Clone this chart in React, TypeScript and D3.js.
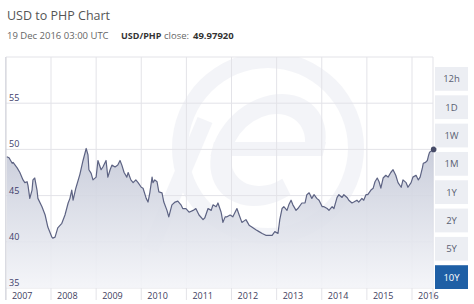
import React from "react";
import * as d3 from "d3";

const title = "USD to PHP Chart";
const stamp = "19 Dec 2016 03:00 UTC";
const pair = "USD/PHP";
const closeLabel = "close:";
const closeValue = "49.97920";

const yearTicks = [2007, 2008, 2009, 2010, 2011, 2012, 2013, 2014, 2015, 2016];
const valueTicks = [35, 40, 45, 50, 55];
const ranges = ["12h", "1D", "1W", "1M", "1Y", "2Y", "5Y", "10Y"];
const activeRange = "10Y";

const times = [
  2007.02, 2007.07, 2007.14, 2007.16, 2007.25, 2007.31, 2007.38, 2007.42, 2007.47, 2007.49,
  2007.53, 2007.58, 2007.6, 2007.64, 2007.69, 2007.71, 2007.8, 2007.87, 2007.93, 2008.02,
  2008.04, 2008.09, 2008.15, 2008.24, 2008.31, 2008.38, 2008.42, 2008.46, 2008.49, 2008.55,
  2008.64, 2008.71, 2008.78, 2008.82, 2008.84, 2008.89, 2008.93, 2009.0, 2009.04, 2009.11,
  2009.15, 2009.22, 2009.26, 2009.31, 2009.35, 2009.42, 2009.48, 2009.53, 2009.57, 2009.62,
  2009.68, 2009.71, 2009.77, 2009.82, 2009.88, 2009.93, 2010.0, 2010.04, 2010.11, 2010.15,
  2010.19, 2010.24, 2010.26, 2010.3, 2010.35, 2010.39, 2010.46, 2010.5, 2010.57, 2010.61,
  2010.68, 2010.75, 2010.81, 2010.88, 2010.92, 2010.99, 2011.06, 2011.15, 2011.21, 2011.28,
  2011.37, 2011.41, 2011.48, 2011.55, 2011.59, 2011.66, 2011.7, 2011.77, 2011.81, 2011.86,
  2011.9, 2011.97, 2012.03, 2012.12, 2012.17, 2012.23, 2012.32, 2012.39, 2012.45, 2012.54,
  2012.61, 2012.68, 2012.76, 2012.83, 2012.9, 2012.96, 2013.03, 2013.07, 2013.12, 2013.16,
  2013.23, 2013.27, 2013.32, 2013.36, 2013.43, 2013.47, 2013.56, 2013.63, 2013.67, 2013.72,
  2013.78, 2013.83, 2013.89, 2013.94, 2014.01, 2014.05, 2014.12, 2014.16, 2014.23, 2014.27,
  2014.34, 2014.38, 2014.45, 2014.49, 2014.56, 2014.6, 2014.67, 2014.71, 2014.78, 2014.82,
  2014.89, 2014.93, 2014.98, 2015.02, 2015.09, 2015.14, 2015.18, 2015.23, 2015.27, 2015.31,
  2015.36, 2015.42, 2015.47, 2015.53, 2015.58, 2015.64, 2015.69, 2015.76, 2015.8, 2015.87,
  2015.91, 2015.98, 2016.02, 2016.09, 2016.14, 2016.18, 2016.23, 2016.25, 2016.3, 2016.34,
  2016.37, 2016.39, 2016.45, 2016.48,
];

const rates = [
  49.2, 49.1, 48.5, 48.6, 48.0, 47.5, 46.7, 46.4, 46.5, 46.1,
  44.7, 45.6, 46.7, 46.9, 45.6, 44.7, 43.8, 42.9, 41.6, 40.5,
  40.4, 40.5, 41.5, 42.0, 42.9, 44.2, 44.7, 45.6, 44.5, 45.8,
  47.3, 48.8, 50.1, 49.4, 47.8, 47.4, 46.7, 47.0, 48.8, 47.8,
  48.1, 48.8, 47.0, 47.8, 48.3, 48.1, 48.3, 48.8, 48.3, 47.5,
  47.0, 47.5, 46.7, 46.4, 46.7, 46.4, 45.9, 45.8, 44.7, 44.3,
  45.3, 47.0, 46.4, 46.7, 46.5, 45.4, 45.3, 44.3, 43.4, 42.7,
  44.0, 44.3, 44.4, 44.0, 43.6, 43.6, 43.2, 43.4, 43.6, 42.9,
  42.4, 42.6, 43.6, 43.4, 44.0, 43.8, 44.2, 43.2, 42.1, 42.7,
  42.7, 42.9, 42.7, 43.6, 42.9, 42.1, 42.4, 41.8, 41.6, 41.3,
  41.1, 40.9, 40.7, 40.7, 40.7, 41.1, 40.9, 42.4, 43.6, 43.8,
  43.4, 44.0, 44.5, 44.0, 43.4, 43.6, 44.2, 44.2, 45.1, 45.3,
  44.7, 45.1, 44.7, 44.5, 43.8, 43.8, 43.6, 43.4, 43.8, 43.6,
  44.8, 45.1, 44.8, 45.1, 44.8, 44.5, 44.2, 44.3, 44.5, 44.3,
  44.7, 44.5, 45.1, 45.1, 45.6, 45.8, 46.5, 46.9, 46.5, 45.8,
  46.9, 47.2, 47.0, 47.5, 47.8, 47.2, 46.4, 45.9, 46.7, 46.4,
  45.9, 46.4, 47.0, 47.2, 46.7, 47.0, 48.0, 48.5, 48.6, 48.8,
  49.4, 49.7, 49.9, 50.0,
];

const W = 474;
const H = 304;
const plotLeft = 6;
const plotRight = 433;
const plotTop = 57;
const plotBottom = 288;

export default function App() {
  const x = d3.scaleLinear().domain([2008, 2016]).range([51, 412]);
  const y = d3.scaleLinear().domain([35, 60]).range([plotBottom, plotTop]);
  const pts = times.map((t, i) => [t, rates[i]] as [number, number]);
  const line = d3.line<[number, number]>().x((d) => x(d[0])).y((d) => y(d[1]));
  const area = d3
    .area<[number, number]>()
    .x((d) => x(d[0]))
    .y0(plotBottom)
    .y1((d) => y(d[1]));
  const last = pts[pts.length - 1];
  const font = "'Open Sans', sans-serif";
  const btnY = d3.scaleBand().domain(ranges).range([67, 289]).paddingInner(0.16);

  const ring = d3.arc()({ innerRadius: 80, outerRadius: 96, startAngle: 0, endAngle: Math.PI * 2 }) || "";
  const eArc =
    d3.arc()({ innerRadius: 36, outerRadius: 56, startAngle: 2.5, endAngle: Math.PI * 2 + Math.PI / 2 }) || "";

  return (
    <svg
      width={W}
      height={H}
      style={{ position: "absolute", left: 0, top: 0, background: "#fff" }}
    >
      <defs>
        <linearGradient id="fillg" gradientUnits="userSpaceOnUse" x1="0" y1="145" x2="0" y2={plotBottom}>
          <stop offset="0" stopColor="#c3c7d6" />
          <stop offset="0.45" stopColor="#d9dce6" />
          <stop offset="1" stopColor="#f3f4f8" />
        </linearGradient>
        <clipPath id="plotclip">
          <rect x={plotLeft} y={plotTop} width={plotRight - plotLeft} height={plotBottom - plotTop} />
        </clipPath>
      </defs>

      <text x={7} y={20} fontFamily={font} fontSize={12.5} fill="#555">
        {title}
      </text>
      <text x={7} y={39} fontFamily={font} fontSize={9.5} fill="#666">
        {stamp}
      </text>
      <text x={121} y={39} fontFamily={font} fontSize={9} fontWeight={700} fill="#333">
        {pair}
      </text>
      <text x={164} y={39} fontFamily={font} fontSize={9.5} fill="#666">
        {closeLabel}
      </text>
      <text x={193} y={39} fontFamily={font} fontSize={9.5} fontWeight={700} fill="#333">
        {closeValue}
      </text>

      {/* watermark */}
      <g clipPath="url(#plotclip)" opacity={0.45} fill="#e6e8f0">
        <path d={ring} transform="translate(268,148)" />
        <g transform="translate(268,150) skewX(-14)">
          <path d={eArc} />
          <rect x={-56} y={-8} width={112} height={14} />
        </g>
        <line x1={150} y1={250} x2={205} y2={120} stroke="#e6e8f0" strokeWidth={16} />
      </g>

      {/* grid */}
      {valueTicks.map((v) => (
        <line key={"h" + v} x1={plotLeft} x2={plotRight} y1={y(v)} y2={y(v)} stroke="#e3e3e8" strokeWidth={1} />
      ))}
      {yearTicks.map((t) => (
        <line key={"v" + t} x1={x(t)} x2={x(t)} y1={plotTop} y2={plotBottom + 12} stroke="#e3e3e8" strokeWidth={1} />
      ))}
      <line x1={plotLeft} x2={plotRight} y1={plotTop} y2={plotTop} stroke="#e3e3e8" />
      <line x1={plotRight} x2={plotRight} y1={plotTop} y2={plotBottom + 12} stroke="#e3e3e8" />
      <line x1={x(2007)} x2={x(2007)} y1={plotTop} y2={plotBottom + 12} stroke="#cfd0d8" />

      <path d={area(pts) || ""} fill="url(#fillg)" opacity={0.9} />
      <path d={line(pts) || ""} fill="none" stroke="#5d6383" strokeWidth={1.2} strokeLinejoin="round" />
      <circle cx={x(last[0])} cy={y(last[1])} r={2.8} fill="#474c68" />

      {valueTicks.map((v) => (
        <text key={"yl" + v} x={9} y={y(v) - 2} fontFamily={font} fontSize={9} fill="#40406a">
          {v}
        </text>
      ))}
      {yearTicks.map((t) => (
        <text key={"xl" + t} x={x(t) + 6} y={299} fontFamily={font} fontSize={9} fill="#40405e">
          {t}
        </text>
      ))}

      {ranges.map((r) => {
        const active = r === activeRange;
        const by = btnY(r) as number;
        const bh = btnY.bandwidth();
        return (
          <g key={r}>
            <rect x={435} y={by} width={33} height={bh} fill={active ? "#1e5fa5" : "#eceef3"} />
            <text
              x={451.5}
              y={by + bh / 2 + 3.5}
              textAnchor="middle"
              fontFamily={font}
              fontSize={9.5}
              fill={active ? "#fff" : "#5a5f72"}
            >
              {r}
            </text>
          </g>
        );
      })}
    </svg>
  );
}
